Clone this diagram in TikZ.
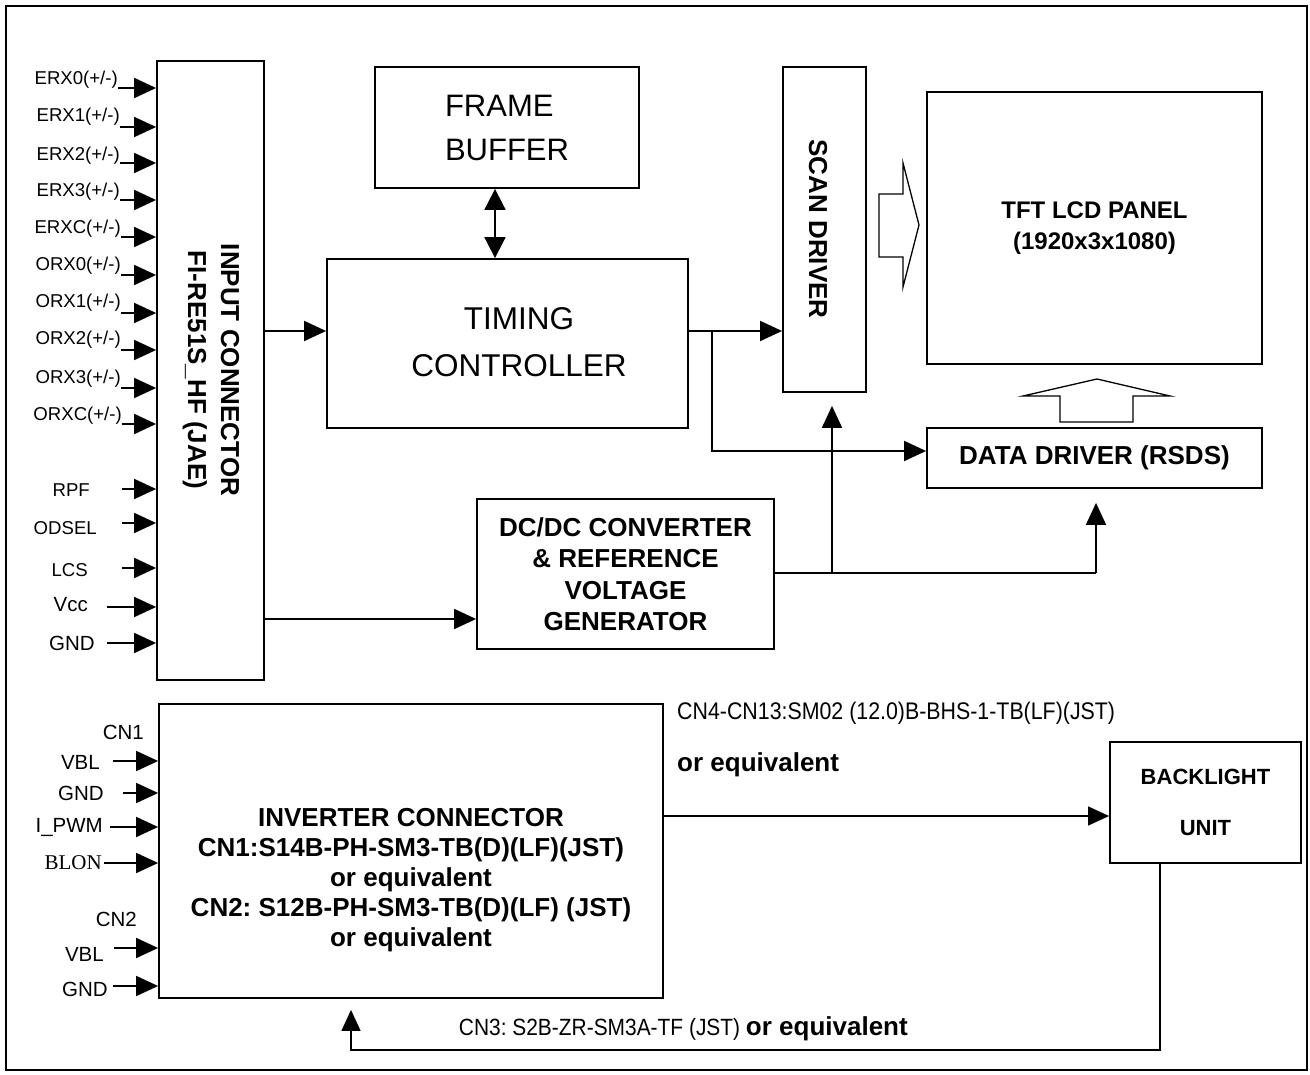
\documentclass[tikz,border=0pt]{standalone}
\usepackage{fontspec}
\setmainfont{Liberation Sans}
\newfontfamily\serifont{Liberation Serif}
\newfontfamily\narrowfont[FakeStretch=0.89]{Liberation Sans}
\usetikzlibrary{arrows.meta}
\frenchspacing
\begin{document}
\begin{tikzpicture}[x=1pt,y=-1pt,
  box/.style={draw, line width=1.8pt, inner sep=0pt, rectangle},
  arr/.style={line width=1.8pt, -{Triangle[length=22pt,width=20pt]}},
  tarr/.style={line width=1.3pt, -{Triangle[length=21pt,width=19pt]}},
  wire/.style={line width=1.8pt},
  twire/.style={line width=1.3pt},
  lab/.style={font=\fontsize{18.6}{20}\selectfont, inner sep=0pt, anchor=east},
  labb/.style={font=\fontsize{20.5}{22}\selectfont, inner sep=0pt, anchor=east},
  bigtxt/.style={font=\fontsize{31}{46}\selectfont, inner sep=0pt, align=center},
  boldtxt/.style={font=\bfseries\fontsize{26}{32}\selectfont, inner sep=0pt, align=center},
  openarr/.style={line width=1.3pt}
]
\useasboundingbox (0,0) rectangle (1310,1075);
\draw[line width=2pt] (6,6) rectangle (1307,1070);

% ---------- boxes ----------
\node[box, minimum width=107pt, minimum height=619pt] (inconn) at (210.5,370.5) {};
\node[rotate=-90, font=\bfseries\fontsize{26}{33}\selectfont, align=center, inner sep=0pt] (inconntxt) at (211,370) {INPUT CONNECTOR\\FI-RE51S\_HF (JAE)};

\node[box, minimum width=264pt, minimum height=121pt, align=left, font=\fontsize{31}{44}\selectfont] (fb) at (507,127.5) {FRAME\\BUFFER};

\node[box, minimum width=361pt, minimum height=169pt] (tc) at (507.5,343.5) {};
\node[bigtxt, font=\fontsize{31.5}{47}\selectfont] (tctxt) at (519,342) {TIMING\\CONTROLLER};

\node[box, minimum width=83pt, minimum height=325pt] (scan) at (824.5,229.5) {};
\node[rotate=-90, font=\bfseries\fontsize{26}{30}\selectfont, inner sep=0pt] (scantxt) at (818,229) {SCAN DRIVER};

\node[box, minimum width=335pt, minimum height=272pt, align=center, font=\bfseries\fontsize{24}{31}\selectfont] (panel) at (1094.5,228) {TFT LCD PANEL\\(1920x3x1080)};

\node[box, minimum width=335pt, minimum height=60pt, font=\bfseries\fontsize{26}{30}\selectfont] (data) at (1094.5,458) {DATA DRIVER (RSDS)};

\node[box, minimum width=297pt, minimum height=150pt, align=center, font=\bfseries\fontsize{26}{31.5}\selectfont] (dcdc) at (625.5,574) {DC/DC CONVERTER\\\& REFERENCE\\VOLTAGE\\GENERATOR};

\node[box, minimum width=504pt, minimum height=294pt] (inv) at (411,851) {};
\node[boldtxt, font=\bfseries\fontsize{26}{30}\selectfont] (invtxt) at (411,880) {INVERTER CONNECTOR\\CN1:S14B-PH-SM3-TB(D)(LF)(JST)\\or equivalent\\CN2: S12B-PH-SM3-TB(D)(LF) (JST)\\or equivalent};

\node[box, minimum width=191pt, minimum height=121pt] (bl) at (1205.5,802.5) {};
\node[font=\bfseries\fontsize{22}{51}\selectfont, align=center, inner sep=0pt] (bltxt) at (1205.5,802) {BACKLIGHT\\UNIT};

% ---------- open block arrows ----------
\draw[openarr] (879,194) -- (903,194) -- (903,163) -- (919,225) -- (903,287) -- (903,257) -- (879,257) -- cycle;
\draw[openarr] (1060,422) -- (1060,396) -- (1023,396) -- (1097,379) -- (1170,396) -- (1133,396) -- (1133,422) -- cycle;

% ---------- input connector signals ----------
\node[lab] (l1) at (118,80) {ERX0(+/-)};
\node[lab] (l2) at (120,117) {ERX1(+/-)};
\node[lab] (l3) at (120,156) {ERX2(+/-)};
\node[lab] (l4) at (120,192) {ERX3(+/-)};
\node[lab] (l5) at (121,229) {ERXC(+/-)};
\node[lab] (l6) at (121,266) {ORX0(+/-)};
\node[lab] (l7) at (121,303) {ORX1(+/-)};
\node[lab] (l8) at (121,340) {ORX2(+/-)};
\node[lab] (l9) at (121,379) {ORX3(+/-)};
\node[lab] (l10) at (122,416) {ORXC(+/-)};
\node[lab] (l11) at (90,490) {RPF};
\node[lab] (l12) at (97,528) {ODSEL};
\node[lab] (l13) at (88,570) {LCS};
\node[labb] (l14) at (88,605) {Vcc};
\node[labb] (l15) at (95,643) {GND};

\coordinate (s1) at (118,88);
\coordinate (s2) at (120,127);
\coordinate (s3) at (120,163);
\coordinate (s4) at (120,200);
\coordinate (s5) at (121,237);
\coordinate (s6) at (121,275);
\coordinate (s7) at (121,313);
\coordinate (s8) at (121,350);
\coordinate (s9) at (121,388);
\coordinate (s10) at (122,424);
\coordinate (s11) at (122,489);
\coordinate (s12) at (122,523);
\coordinate (s13) at (122,568);
\coordinate (s14) at (107,607);
\coordinate (s15) at (107,643);
\foreach \s in {s1,s2,s3,s4,s5,s6,s7,s8,s9,s10,s11,s12,s13,s14,s15}
  \draw[arr] (\s) -- (\s -| inconn.west);

% ---------- inverter signals ----------
\node[labb] (c1) at (144,732) {CN1};
\node[labb] (i1) at (100,762) {VBL};
\node[labb] (i2) at (104,793) {GND};
\node[labb] (i3) at (103,827) {I\_PWM};
\node[labb, font=\serifont\fontsize{21}{22}\selectfont] (i4) at (102,863) {BLON};
\node[labb] (c2) at (137,919) {CN2};
\node[labb] (i5) at (104,954) {VBL};
\node[labb] (i6) at (108,989) {GND};

\coordinate (t1) at (113,761);
\coordinate (t2) at (123,793);
\coordinate (t3) at (110,827);
\coordinate (t4) at (104,863);
\coordinate (t5) at (114,948);
\coordinate (t6) at (113,986);
\foreach \s in {t1,t2,t3,t4,t5,t6}
  \draw[arr] (\s) -- (\s -| inv.west);

% ---------- internal connectors ----------
\coordinate (a1) at (264,331);
\draw[arr] (inconn.east |- a1) -- (tc.west |- a1);
\coordinate (a2) at (264,619);
\draw[arr] (inconn.east |- a2) -- (dcdc.west |- a2);

\coordinate (fbx) at (495,188);
\draw[line width=1.8pt, {Triangle[length=21pt,width=21pt]}-{Triangle[length=21pt,width=21pt]}] (fb.south -| fbx) -- (tc.north -| fbx);

\coordinate (j1) at (712,331);
\coordinate (j2) at (712,451);
\draw[arr] (tc.east |- j1) -- (scan.west |- j1);
\draw[arr] (j1) -- (j2) -- (j2 -| data.west);

\coordinate (k) at (832,573);
\coordinate (m) at (1096,573);
\draw[wire] (dcdc.east |- k) -- (m);
\draw[arr, shorten >=13pt] (k) -- (k |- scan.south);
\draw[arr, shorten >=14pt] (m) -- (m |- data.south);

% ---------- backlight connectors ----------
\coordinate (b0) at (663,816);
\draw[tarr] (inv.east |- b0) -- (bl.west |- b0);
\coordinate (b1) at (1160,1050);
\coordinate (b2) at (351,1050);
\draw[tarr, shorten >=11pt] (bl.south -| b1) -- (b1) -- (b2) -- (b2 |- inv.south);

\node[anchor=west, inner sep=0pt, font=\narrowfont\fontsize{24}{26}\selectfont] (cn4) at (677,713) {CN4-CN13:SM02 (12.0)B-BHS-1-TB(LF)(JST)};
\node[anchor=west, inner sep=0pt, font=\bfseries\fontsize{26}{28}\selectfont] (cn4b) at (677,765) {or equivalent};
\node[anchor=east, inner sep=0pt] (cn3) at (908,1029) {{\narrowfont\fontsize{23.5}{26}\selectfont CN3: S2B-ZR-SM3A-TF (JST) }{\bfseries\fontsize{26}{28}\selectfont or equivalent}};
\end{tikzpicture}
\end{document}
